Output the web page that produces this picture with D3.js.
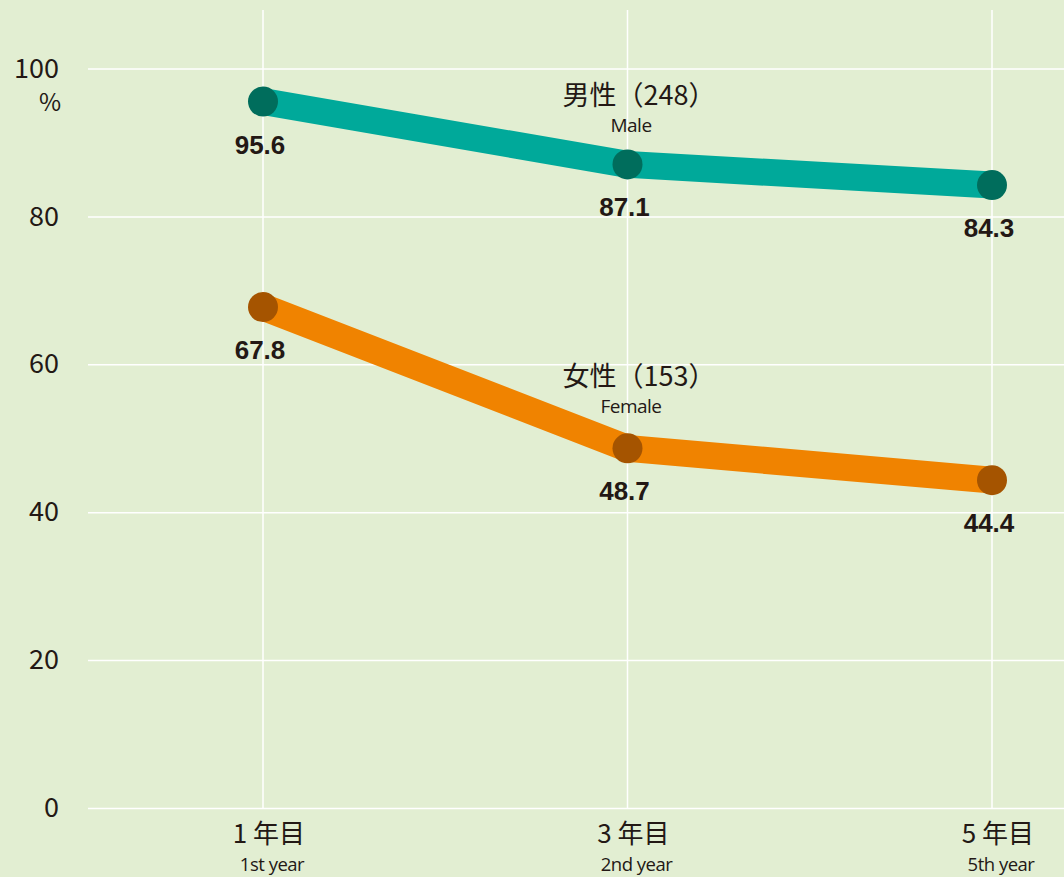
<!DOCTYPE html>
<html>
<head>
<meta charset="utf-8">
<script src="https://cdn.jsdelivr.net/npm/d3@7"></script>
<style>
  body { margin: 0; background: #e2eed2; }
  svg { display: block; }
</style>
</head>
<body>
<script>
// data
const periods = ["1 年目", "3 年目", "5 年目"];
const periodsEn = ["1st year", "2nd year", "5th year"];
const maleValues = [95.6, 87.1, 84.3];
const femaleValues = [67.8, 48.7, 44.4];
const yTicks = [0, 20, 40, 60, 80, 100];

const w = 1064;
const h = 877;
const textColor = "#231815";
const jpFont = "'Noto Sans CJK JP', 'Noto Sans', sans-serif";

const svg = d3.select("body").append("svg")
              .attr("width", w)
              .attr("height", h);

svg.append("rect").attr("width", w).attr("height", h).attr("fill", "#e2eed2");

const xScale = d3.scalePoint()
                 .domain(periods)
                 .range([263, 992]);
const yScale = d3.scaleLinear()
                 .domain([0, 100])
                 .range([808.5, 69]);

// gridlines
svg.append("g").selectAll("line.h")
   .data(yTicks)
   .enter().append("line")
   .attr("x1", 88).attr("x2", w)
   .attr("y1", d => yScale(d)).attr("y2", d => yScale(d))
   .attr("stroke", "#ffffff").attr("stroke-width", 1.5);

svg.append("g").selectAll("line.v")
   .data(periods)
   .enter().append("line")
   .attr("x1", d => xScale(d)).attr("x2", d => xScale(d))
   .attr("y1", 10).attr("y2", yScale(0))
   .attr("stroke", "#ffffff").attr("stroke-width", 1.5);

// y axis labels
const yAxis = d3.axisLeft(yScale).tickValues(yTicks).tickSize(0).tickPadding(0);
const yg = svg.append("g").attr("transform", "translate(59, 0)").call(yAxis);
yg.select(".domain").remove();
yg.selectAll("text")
  .attr("font-family", jpFont)
  .attr("font-size", 27)
  .attr("fill", textColor)
  .attr("dy", "0.3em");

svg.append("text")
   .attr("x", 61).attr("y", 111)
   .attr("text-anchor", "end")
   .attr("font-family", jpFont).attr("font-size", 24)
   .attr("fill", textColor)
   .text("%");

// x axis labels
const xg = svg.append("g");
xg.selectAll("text.jp")
  .data(periods)
  .enter().append("text")
  .attr("x", d => xScale(d) + 6).attr("y", 843)
  .attr("text-anchor", "middle")
  .attr("font-family", jpFont).attr("font-size", 26)
  .attr("fill", textColor)
  .text(d => d);
xg.selectAll("text.en")
  .data(periodsEn)
  .enter().append("text")
  .attr("x", (d, i) => xScale(periods[i]) + 9).attr("y", 871)
  .attr("text-anchor", "middle")
  .attr("font-family", "'Open Sans', sans-serif").attr("font-size", 18.5)
  .attr("letter-spacing", "-0.5")
  .attr("fill", textColor)
  .text(d => d);

// series
const line = d3.line()
               .x((d, i) => xScale(periods[i]))
               .y(d => yScale(d));

function drawSeries(values, lineColor, dotColor) {
    svg.append("path")
       .datum(values)
       .attr("d", line)
       .attr("fill", "none")
       .attr("stroke", lineColor)
       .attr("stroke-width", 27)
       .attr("stroke-linejoin", "round");

    svg.append("g").selectAll("circle")
       .data(values)
       .enter().append("circle")
       .attr("cx", (d, i) => xScale(periods[i]))
       .attr("cy", d => yScale(d))
       .attr("r", 15)
       .attr("fill", dotColor);

    svg.append("g").selectAll("text")
       .data(values)
       .enter().append("text")
       .attr("x", (d, i) => xScale(periods[i]) - 3)
       .attr("y", d => yScale(d) + 52)
       .attr("text-anchor", "middle")
       .attr("font-family", "'Liberation Sans', Arial, sans-serif")
       .attr("font-weight", "bold")
       .attr("font-size", 26)
       .attr("fill", textColor)
       .text(d => d.toFixed(1));
}

drawSeries(maleValues, "#00a99a", "#006d5c");
drawSeries(femaleValues, "#f08300", "#a55400");

// series labels
function seriesLabel(jp, en, y) {
    svg.append("text")
       .attr("x", 639).attr("y", y)
       .attr("text-anchor", "middle")
       .attr("font-family", jpFont).attr("font-size", 27)
       .attr("fill", textColor)
       .text(jp);
    svg.append("text")
       .attr("x", 631).attr("y", y + 27)
       .attr("text-anchor", "middle")
       .attr("font-family", "'Open Sans', sans-serif").attr("font-size", 19)
       .attr("letter-spacing", "-0.5")
       .attr("fill", textColor)
       .text(en);
}
seriesLabel("男性（248）", "Male", 105);
seriesLabel("女性（153）", "Female", 386);
</script>
</body>
</html>
